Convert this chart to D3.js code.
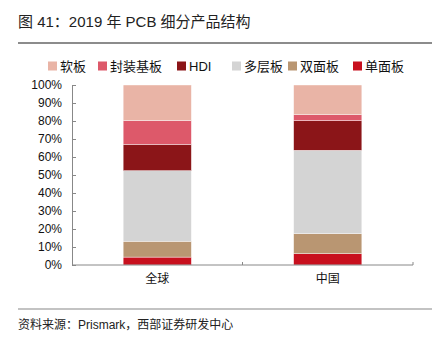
<!DOCTYPE html>
<html><head><meta charset="utf-8">
<script src="https://cdn.jsdelivr.net/npm/d3@7"></script>
<style>body{margin:0;background:#fff;}svg{display:block;}</style>
</head><body>
<svg id="c" width="440" height="342"></svg>
<script>
const categories = ["全球", "中国"];
const seriesNames = ["单面板", "双面板", "多层板", "HDI", "封装基板", "软板"];
const danmian = [4.4, 6.3];
const shuangmian = [8.8, 11.1];
const duoceng = [39.2, 46.3];
const hdi = [14.6, 16.5];
const fengzhuang = [13.2, 3.3];
const ruanban = [19.8, 16.5];
const yTicks = [0, 10, 20, 30, 40, 50, 60, 70, 80, 90, 100];
const legendOrder = ["软板", "封装基板", "HDI", "多层板", "双面板", "单面板"];
const colors = {"软板":"#E9B4A6","封装基板":"#DD596A","HDI":"#8B1518","多层板":"#D4D4D4","双面板":"#B99672","单面板":"#C8101E"};

const seriesValues = [danmian, shuangmian, duoceng, hdi, fengzhuang, ruanban];
const rows = categories.map((c, i) => {
  const r = {cat: c};
  seriesNames.forEach((s, j) => r[s] = seriesValues[j][i]);
  return r;
});

const svg = d3.select("#c");
const cjk = "'Liberation Sans', Arial, 'Noto Sans CJK SC', sans-serif";

// title
svg.append("text").attr("x", 18).attr("y", 27).attr("font-family", cjk)
  .attr("font-size", 15).attr("fill", "#222").text("图 41：2019 年 PCB 细分产品结构");
svg.append("line").attr("x1", 18).attr("x2", 432).attr("y1", 43).attr("y2", 43)
  .attr("stroke", "#666").attr("stroke-width", 1.5);

// footer
svg.append("line").attr("x1", 18).attr("x2", 432).attr("y1", 309).attr("y2", 309)
  .attr("stroke", "#888").attr("stroke-width", 1.2);
svg.append("text").attr("x", 18).attr("y", 329).attr("font-family", cjk)
  .attr("font-size", 12).attr("fill", "#222").text("资料来源：Prismark，西部证券研发中心");

// scales
const x = d3.scaleBand().domain(categories).range([72, 413]).paddingInner(0.6).paddingOuter(0.3);
const y = d3.scaleLinear().domain([0, 100]).range([265, 85]);

const stack = d3.stack().keys(seriesNames)(rows);
svg.append("g").selectAll("g").data(stack).join("g")
  .attr("fill", d => colors[d.key])
  .selectAll("rect").data(d => d).join("rect")
  .attr("x", d => x(d.data.cat))
  .attr("width", x.bandwidth())
  .attr("y", d => y(d[1]))
  .attr("height", d => y(d[0]) - y(d[1]))
  .attr("stroke", "#fff").attr("stroke-width", 0.4);

// y axis
const ya = svg.append("g").attr("transform", "translate(72,0)")
  .call(d3.axisRight(y).tickValues(yTicks).tickSize(4).tickFormat(""));
ya.select(".domain").attr("stroke", "#888");
ya.selectAll(".tick line").attr("stroke", "#888");
svg.append("g").selectAll("text").data(yTicks).join("text")
  .attr("x", 62).attr("y", d => y(d)).attr("dy", "0.35em")
  .attr("text-anchor", "end").attr("font-family", cjk).attr("font-size", 12)
  .attr("fill", "#111").text(d => d + "%");

// x axis
const xa = svg.append("g").attr("transform", "translate(0,265)")
  .call(d3.axisBottom(x).tickSize(0).tickSizeOuter(0));
xa.select(".domain").attr("stroke", "#888").attr("d", "M72,0H413V-3");
xa.selectAll(".tick text").attr("font-family", cjk).attr("font-size", 12)
  .attr("fill", "#111").attr("dy", "1.25em");
// category separator tick
const sep = (x(categories[0]) + x.bandwidth() + x(categories[1])) / 2;
xa.append("line").attr("x1", sep).attr("x2", sep).attr("y1", 0).attr("y2", -3)
  .attr("stroke", "#888");

// legend
const legX = [48, 98, 177, 232, 288, 353];
const lg = svg.append("g").selectAll("g").data(legendOrder).join("g")
  .attr("transform", (d, i) => `translate(${legX[i]},66)`);
lg.append("rect").attr("x", 0).attr("y", -4.5).attr("width", 9).attr("height", 9)
  .attr("fill", d => colors[d]);
lg.append("text").attr("x", 12).attr("y", 0).attr("dy", "0.36em")
  .attr("font-family", cjk).attr("font-size", 13).attr("fill", "#111").text(d => d);
</script>
</body></html>
